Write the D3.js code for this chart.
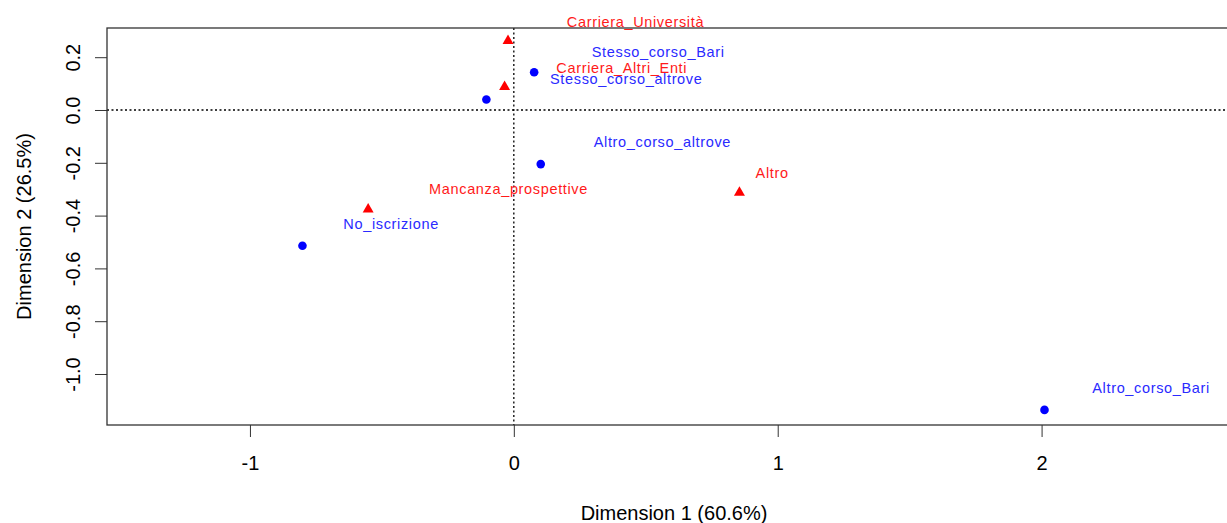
<!DOCTYPE html>
<html>
<head>
<meta charset="utf-8">
<script src="https://cdn.jsdelivr.net/npm/d3@7"></script>
<style>
  body { margin: 0; background: #fff; }
  text { font-family: Arial, "Liberation Sans", sans-serif; }
</style>
</head>
<body>
<svg id="ca_plot" width="1227" height="523"></svg>
<script>
// row points (blue dots)
var rowNames = ["Stesso_corso_Bari", "Stesso_corso_altrove", "Altro_corso_altrove", "No_iscrizione", "Altro_corso_Bari"];
var rowDim1 = [0.077, -0.104, 0.102, -0.801, 2.011];
var rowDim2 = [0.143, 0.040, -0.205, -0.514, -1.136];
// where R put the row labels (data units)
var rowLabDim1 = [0.547, 0.426, 0.563, -0.465, 2.415];
var rowLabDim2 = [0.220, 0.117, -0.120, -0.432, -1.054];

// column points (red triangles)
var colNames = ["Carriera_Università", "Carriera_Altri_Enti", "Mancanza_prospettive", "Altro"];
var colDim1 = [-0.022, -0.035, -0.552, 0.855];
var colDim2 = [0.262, 0.088, -0.376, -0.313];
var colLabDim1 = [0.461, 0.409, -0.020, 0.979];
var colLabDim2 = [0.335, 0.158, -0.299, -0.240];

var xTicks = [-1, 0, 1, 2];
var yTicks = [0.2, 0.0, -0.2, -0.4, -0.6, -0.8, -1.0];
var xTitle = "Dimension 1 (60.6%)";
var yTitle = "Dimension 2 (26.5%)";

(function () {
    var pl = 107, pt = 28, pr = 1241, pb = 425;

    var x = d3.scaleLinear().domain([-1.5417, 2.7557]).range([pl, pr]);
    var y = d3.scaleLinear().domain([-1.1932, 0.3106]).range([pb, pt]);

    var svg = d3.select("#ca_plot");

    // dotted zero lines
    svg.append("line")
        .attr("x1", pl).attr("x2", pr)
        .attr("y1", y(0)).attr("y2", y(0))
        .attr("stroke", "#000").attr("stroke-width", 1.3).attr("stroke-dasharray", "2,2.5");
    svg.append("line")
        .attr("x1", x(0)).attr("x2", x(0))
        .attr("y1", pt).attr("y2", pb)
        .attr("stroke", "#000").attr("stroke-width", 1.3).attr("stroke-dasharray", "2,2.5");

    // box
    svg.append("rect")
        .attr("x", pl).attr("y", pt)
        .attr("width", pr - pl).attr("height", pb - pt)
        .attr("fill", "none").attr("stroke", "#333").attr("stroke-width", 1.3);

    // axes
    var xAxis = svg.append("g")
        .attr("transform", "translate(0," + pb + ")")
        .call(d3.axisBottom(x).tickValues(xTicks).tickSize(12).tickFormat(d => String(d)));
    xAxis.select(".domain").remove();
    xAxis.selectAll("line").attr("stroke", "#333");
    xAxis.selectAll("text")
        .attr("y", 45).attr("dy", null)
        .attr("font-size", 20).attr("font-family", "Arial, 'Liberation Sans', sans-serif")
        .attr("fill", "#000");

    var yAxis = svg.append("g")
        .attr("transform", "translate(" + pl + ",0)")
        .call(d3.axisLeft(y).tickValues(yTicks).tickSize(12).tickFormat(d => d.toFixed(1)));
    yAxis.select(".domain").remove();
    yAxis.selectAll("line").attr("stroke", "#333");
    yAxis.selectAll("text")
        .attr("x", 0).attr("y", -27).attr("dy", null)
        .attr("transform", "rotate(-90)")
        .attr("text-anchor", "middle")
        .attr("font-size", 20).attr("font-family", "Arial, 'Liberation Sans', sans-serif")
        .attr("fill", "#000");

    // axis titles
    svg.append("text")
        .attr("x", (pl + pr) / 2).attr("y", 520)
        .attr("text-anchor", "middle").attr("font-size", 20)
        .text(xTitle);
    svg.append("text")
        .attr("transform", "translate(31," + (pt + pb) / 2 + ") rotate(-90)")
        .attr("text-anchor", "middle").attr("font-size", 20)
        .text(yTitle);

    // row points
    svg.selectAll("circle.row")
        .data(rowNames)
        .join("circle")
        .attr("class", "row")
        .attr("cx", (d, i) => x(rowDim1[i]))
        .attr("cy", (d, i) => y(rowDim2[i]))
        .attr("r", 4.3)
        .attr("fill", "blue");

    // column points
    svg.selectAll("path.col")
        .data(colNames)
        .join("path")
        .attr("class", "col")
        .attr("d", d3.symbol(d3.symbolTriangle, 52))
        .attr("transform", (d, i) => "translate(" + x(colDim1[i]) + "," + y(colDim2[i]) + ")")
        .attr("fill", "red");

    // labels
    svg.selectAll("text.rowlab")
        .data(rowNames)
        .join("text")
        .attr("class", "rowlab")
        .attr("x", (d, i) => x(rowLabDim1[i]))
        .attr("y", (d, i) => y(rowLabDim2[i]))
        .attr("dy", "0.35em")
        .attr("text-anchor", "middle")
        .attr("font-size", 14.5)
        .attr("letter-spacing", 0.65)
        .attr("fill", "#2a2aff")
        .text(d => d);

    svg.selectAll("text.collab")
        .data(colNames)
        .join("text")
        .attr("class", "collab")
        .attr("x", (d, i) => x(colLabDim1[i]))
        .attr("y", (d, i) => y(colLabDim2[i]))
        .attr("dy", "0.35em")
        .attr("text-anchor", "middle")
        .attr("font-size", 14.5)
        .attr("letter-spacing", 0.65)
        .attr("fill", "#ff1a1a")
        .text(d => d);
})();
</script>
</body>
</html>
